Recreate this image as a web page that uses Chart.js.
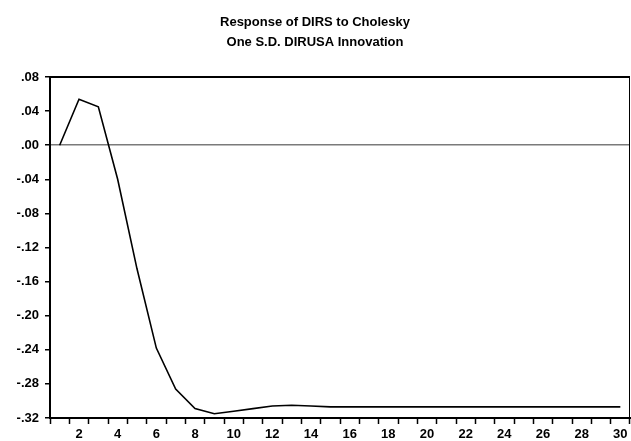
<!DOCTYPE html>
<html>
<head>
<meta charset="utf-8">
<script src="https://cdn.jsdelivr.net/npm/chart.js@4.4.0/dist/chart.umd.min.js"></script>
<style>
  html, body { margin: 0; padding: 0; background: #fff; }
  #wrap { width: 631px; height: 441px; }
</style>
</head>
<body>
<div id="wrap"><canvas id="graph" width="631" height="441"></canvas></div>
<script>
const periods = ["1","2","3","4","5","6","7","8","9","10","11","12","13","14","15",
                 "16","17","18","19","20","21","22","23","24","25","26","27","28","29","30"];
const response = [0.000, 0.054, 0.045, -0.040, -0.145, -0.238, -0.286, -0.309, -0.315, -0.312,
                  -0.309, -0.306, -0.305, -0.306, -0.307, -0.307, -0.307, -0.307, -0.307, -0.307,
                  -0.307, -0.307, -0.307, -0.307, -0.307, -0.307, -0.307, -0.307, -0.307, -0.307];
const titleLines = ["Response of DIRS to Cholesky", "One S.D. DIRUSA Innovation"];

function fmtTick(v) {
  if (Math.abs(v) < 1e-9) return ".00";
  const s = Math.abs(v).toFixed(2).replace(/^0/, "");
  return (v < 0 ? "-" : "") + s;
}

// frame on top and right, like the original package draws it
const framePlugin = {
  id: "frame",
  afterDraw(chart) {
    const { ctx, chartArea: a } = chart;
    ctx.save();
    ctx.strokeStyle = "#000";
    ctx.lineWidth = 2;
    ctx.beginPath();
    ctx.moveTo(a.left, a.top);
    ctx.lineTo(a.right, a.top);
    ctx.stroke();
    ctx.lineWidth = 1;
    ctx.beginPath();
    ctx.moveTo(a.right - 0.5, a.top);
    ctx.lineTo(a.right - 0.5, a.bottom);
    ctx.stroke();
    ctx.restore();
  }
};

window.onload = function () {
  const ctx = document.getElementById("graph").getContext("2d");
  Chart.defaults.font.family = "'Liberation Sans', Arial, sans-serif";
  Chart.defaults.color = "#000";

  new Chart(ctx, {
    type: "line",
    data: {
      labels: periods,
      datasets: [{
        data: response,
        borderColor: "#000",
        borderWidth: 1.6,
        pointRadius: 0,
        tension: 0,
        fill: false
      }]
    },
    options: {
      responsive: false,
      animation: false,
      layout: { padding: { left: 0, right: 1, top: 0, bottom: 0 } },
      plugins: {
        legend: { display: false },
        tooltip: { enabled: false },
        title: {
          display: true,
          text: titleLines,
          color: "#000",
          font: { size: 13, weight: "bold", lineHeight: "20px" },
          padding: { top: 12, bottom: 25 }
        }
      },
      scales: {
        x: {
          type: "category",
          offset: true,
          grid: {
            offset: true,
            drawOnChartArea: false,
            drawTicks: true,
            tickLength: 6,
            tickColor: "#000",
            tickWidth: 1.5
          },
          border: { display: true, color: "#000", width: 2 },
          ticks: {
            autoSkip: false,
            maxRotation: 0,
            padding: 3,
            font: { size: 13, weight: "bold" },
            callback: function (val, i) {
              const lab = this.getLabelForValue(val);
              return Number(lab) % 2 === 0 ? lab : "";
            }
          },
          afterFit(scale) { scale.height = 23; }
        },
        y: {
          min: -0.32,
          max: 0.08,
          grid: {
            drawOnChartArea: true,
            drawTicks: true,
            tickLength: 5,
            tickColor: "#000",
            tickWidth: 1.5,
            lineWidth: 1.5,
            color: (c) => (c.tick && Math.abs(c.tick.value) < 1e-9 ? "#7a7a7a" : "rgba(0,0,0,0)")
          },
          border: { display: true, color: "#000", width: 2 },
          ticks: {
            stepSize: 0.04,
            padding: 6,
            font: { size: 13, weight: "bold" },
            callback: (v) => fmtTick(v)
          },
          afterFit(scale) { scale.width = 50; }
        }
      }
    },
    plugins: [framePlugin]
  });
};
</script>
</body>
</html>
